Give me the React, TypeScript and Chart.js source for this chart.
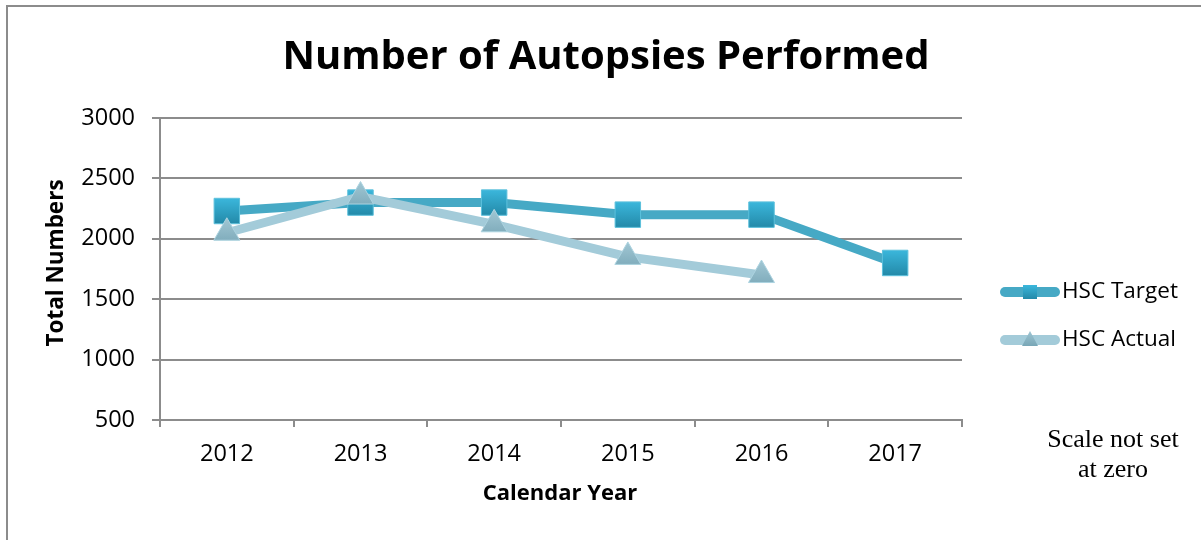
import React, { useEffect, useRef } from "react";
import { Chart, registerables } from "chart.js";

Chart.register(...registerables);

const years = ["2012", "2013", "2014", "2015", "2016", "2017"];
const hscTarget = [2230, 2300, 2300, 2200, 2200, 1800];
const hscActual: (number | null)[] = [2050, 2350, 2120, 1850, 1700, null];
const yTicks = { min: 500, max: 3000, step: 500 };

const titleText = "Number of Autopsies Performed";
const yTitle = "Total Numbers";
const xTitle = "Calendar Year";
const legendLabels = ["HSC Target", "HSC Actual"];
const noteLines = ["Scale not set", "at zero"];

const TARGET_LINE = "#46a9c5";
const ACTUAL_LINE = "#a3cbd9";
const GRID = "#8c8c8c";
const SANS = "'Open Sans', 'DejaVu Sans', sans-serif";

function pointGradient(top: string, bottom: string, fallback: string, half: number) {
  return (ctx: any) => {
    const chart = ctx.chart;
    if (ctx.type !== "data" || !chart.chartArea || !ctx.parsed || !chart.scales || !chart.scales.y) return fallback;
    const v = ctx.parsed.y;
    if (v === null || v === undefined || !Number.isFinite(v)) return fallback;
    const y = chart.scales.y.getPixelForValue(v);
    if (!Number.isFinite(y)) return fallback;
    const g = chart.ctx.createLinearGradient(0, y - half, 0, y + half);
    g.addColorStop(0, top);
    g.addColorStop(1, bottom);
    return g;
  };
}

const decorPlugin = {
  id: "decor",
  afterDraw(chart: any) {
    const c = chart.ctx as CanvasRenderingContext2D;
    c.save();
    // frame
    c.strokeStyle = GRID;
    c.lineWidth = 2;
    c.beginPath();
    c.moveTo(7, 540);
    c.lineTo(7, 6);
    c.lineTo(1201, 6);
    c.stroke();

    c.fillStyle = "#000";
    // title
    c.font = `bold 40px ${SANS}`;
    c.textAlign = "center";
    c.textBaseline = "middle";
    c.fillText(titleText, 606, 58);

    // axis titles
    c.font = `bold 22px ${SANS}`;
    c.fillText(xTitle, 560, 494);
    c.save();
    c.translate(57, 263);
    c.rotate(-Math.PI / 2);
    c.font = `bold 22.5px ${SANS}`;
    c.fillText(yTitle, 0, 0);
    c.restore();

    // legend
    const items = [
      { y: 292, color: TARGET_LINE, marker: "rect" },
      { y: 340, color: ACTUAL_LINE, marker: "tri" },
    ];
    items.forEach((it, i) => {
      c.strokeStyle = it.color;
      c.lineWidth = 10;
      c.lineCap = "round";
      c.beginPath();
      c.moveTo(1005, it.y);
      c.lineTo(1055, it.y);
      c.stroke();
      if (it.marker === "rect") {
        const g = c.createLinearGradient(0, it.y - 7, 0, it.y + 7);
        g.addColorStop(0, "#3bb7dc");
        g.addColorStop(1, "#2389a8");
        c.fillStyle = g;
        c.fillRect(1023, it.y - 7, 14, 14);
      } else {
        const g = c.createLinearGradient(0, it.y - 8, 0, it.y + 6);
        g.addColorStop(0, "#9cc3d1");
        g.addColorStop(1, "#78a6b6");
        c.fillStyle = g;
        c.beginPath();
        c.moveTo(1030, it.y - 9);
        c.lineTo(1038, it.y + 6);
        c.lineTo(1022, it.y + 6);
        c.closePath();
        c.fill();
      }
      c.fillStyle = "#000";
      c.font = `22.5px ${SANS}`;
      c.textAlign = "left";
      c.textBaseline = "middle";
      c.fillText(legendLabels[i], 1062, it.y);
    });

    // note
    c.font = "26px 'Liberation Serif', 'DejaVu Serif', serif";
    c.textAlign = "center";
    c.textBaseline = "middle";
    c.fillText(noteLines[0], 1113, 440);
    c.fillText(noteLines[1], 1113, 470);
    c.restore();
  },
};

export default function App() {
  const ref = useRef<HTMLCanvasElement | null>(null);
  useEffect(() => {
    if (!ref.current) return;
    const chart = new Chart(ref.current, {
      type: "line",
      data: {
        labels: years,
        datasets: [
          {
            label: legendLabels[0],
            data: hscTarget,
            borderColor: TARGET_LINE,
            borderWidth: 9,
            pointStyle: "rect",
            pointRadius: 18,
            pointHoverRadius: 18,
            pointBackgroundColor: pointGradient("#3bb7dc", "#2389a8", "#2ea6c9", 13) as any,
            pointBorderColor: "#5cc0dc",
            pointBorderWidth: 1,
            order: 1,
          },
          {
            label: legendLabels[1],
            data: hscActual,
            borderColor: ACTUAL_LINE,
            borderWidth: 9,
            pointStyle: "triangle",
            pointRadius: 15,
            pointHoverRadius: 15,
            pointBackgroundColor: pointGradient("#a0c6d3", "#78a6b6", "#8fb5c3", 14) as any,
            pointBorderColor: "#acd3e0",
            pointBorderWidth: 1,
            order: 0,
          },
        ],
      },
      options: {
        responsive: false,
        animation: false,
        events: [],
        layout: { padding: { left: 0, top: 118, right: 239, bottom: 0 } },
        plugins: {
          legend: { display: false },
          title: { display: false },
          tooltip: { enabled: false },
        },
        scales: {
          x: {
            offset: true,
            grid: {
              offset: true,
              drawOnChartArea: false,
              drawTicks: true,
              tickLength: 7,
              color: GRID,
              lineWidth: 2,
            },
            border: { display: true, color: GRID, width: 2 },
            ticks: { color: "#000", font: { family: SANS, size: 23.5 }, padding: 13 },
            afterFit: (s: any) => {
              s.height = 120;
            },
          },
          y: {
            min: yTicks.min,
            max: yTicks.max,
            ticks: {
              stepSize: yTicks.step,
              color: "#000",
              font: { family: SANS, size: 23.5 },
              padding: 17,
              callback: (v: any) => String(v),
            },
            grid: { color: GRID, lineWidth: 2, tickLength: 8, drawTicks: true },
            border: { display: true, color: GRID, width: 2 },
            afterFit: (s: any) => {
              s.width = 160;
            },
          },
        },
      },
      plugins: [decorPlugin],
    });
    return () => chart.destroy();
  }, []);
  return (
    <div style={{ position: "absolute", left: 0, top: 0, width: 1201, height: 540, background: "#fff" }}>
      <canvas ref={ref} width={1201} height={540} style={{ display: "block" }} />
    </div>
  );
}
